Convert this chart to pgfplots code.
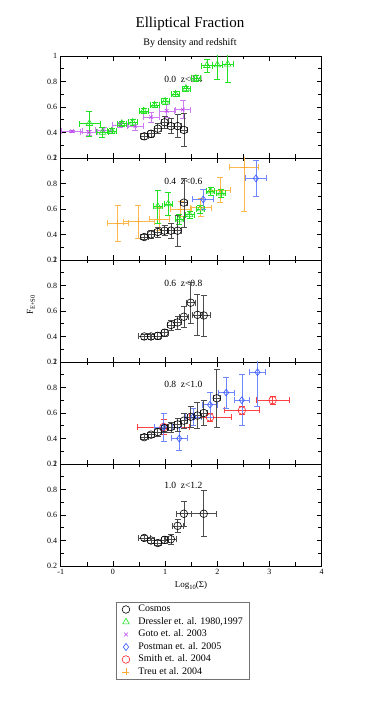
\documentclass[border=0pt]{standalone}
\usepackage{fontspec}
\setmainfont{Liberation Serif}
\usepackage{pgfplots}
\pgfplotsset{compat=1.18}
\definecolor{cgreen}{HTML}{22E022}
\definecolor{cviolet}{HTML}{BB44EE}
\definecolor{cblue}{HTML}{3355FF}
\definecolor{cred}{HTML}{FF2222}
\definecolor{corange}{HTML}{FFAA33}
\tikzset{lab/.style={anchor=west, inner sep=0pt, font=\fontsize{9.5}{9.5}\selectfont}}
\pgfplotsset{
  panel/.style={scale only axis, width=261pt, height=102pt, anchor=north west,
    xmin=-1, xmax=4, ymin=0.2, ymax=1,
    xtick={-1,0,1,2,3,4}, minor x tick num=1,
    ytick={0.2,0.4,0.6,0.8,1}, yticklabels={0.2,0.4,0.6,0.8,1}, minor y tick num=1,
    tick align=inside, major tick length=5pt, minor tick length=3.5pt,
    axis line style={line width=0.8pt}, every tick/.style={black, line width=0.6pt},
    ticklabel style={font=\fontsize{8}{8}\selectfont},
    xticklabels={}},
  eb/.style={error bars/x dir=both, error bars/x explicit, error bars/y dir=both, error bars/y explicit,
    error bars/error bar style={color=#1, line width=0.6pt},
    error bars/error mark options={rotate=90, color=#1, mark size=3pt, line width=0.6pt}},
  cosmos/.style={only marks, mark=o, mark size=3.8pt, mark options={black, line width=0.6pt}, eb=black!70},
  dress/.style={only marks, mark=triangle, mark size=3.8pt, mark options={cgreen, line width=0.6pt}, eb=cgreen},
  goto/.style={only marks, mark=x, mark size=2.5pt, mark options={cviolet, line width=0.6pt}, eb=cviolet!70},
  postman/.style={only marks, mark=diamond, mark size=3.4pt, mark options={cblue, line width=0.6pt}, eb=cblue!70},
  smith/.style={only marks, mark=o, mark size=3.8pt, mark options={cred, line width=0.6pt}, eb=cred!85},
  treu/.style={only marks, mark=+, mark size=3pt, mark options={corange, line width=0.6pt}, eb=corange!85},
}
\begin{document}
\begin{tikzpicture}
\useasboundingbox (0,0) rectangle (374pt,715pt);
\node[font=\fontsize{15}{15}\selectfont] at (190pt,691pt) {Elliptical Fraction};
\node[font=\fontsize{10}{10}\selectfont] at (190pt,672pt) {By density and redshift};
\node[rotate=90, font=\fontsize{9}{9}\selectfont] at (31pt,410pt) {F\raisebox{-0.5ex}{\fontsize{6.5}{6.5}\selectfont E+S0}};
\node[font=\fontsize{9}{9}\selectfont] at (191pt,130pt) {Log\raisebox{-0.5ex}{\fontsize{6.5}{6.5}\selectfont 10}(Σ)};

% Panel 1
\begin{axis}[panel, at={(60.7pt,659pt)}]
\node[lab] at (axis cs:0.98,0.82) {0.0\ \ z<0.4};
\addplot[goto] table[x=x,y=y,x error=ex,y error=ey] {
x y ex ey
-0.78 0.41 0.2 0.01
-0.46 0.40 0.17 0.02
-0.18 0.42 0.15 0.02
0.14 0.46 0.15 0.02
0.43 0.45 0.15 0.03
0.73 0.52 0.15 0.04
1.03 0.57 0.15 0.05
1.34 0.58 0.15 0.07
};
\addplot[dress] table[x=x,y=y,x error=ex,y error=ey] {
x y ex ey
-0.45 0.47 0.2 0.1
-0.20 0.40 0.12 0.04
-0.02 0.41 0.08 0.02
0.17 0.47 0.08 0.02
0.38 0.48 0.08 0.02
0.59 0.57 0.08 0.02
0.80 0.615 0.08 0.02
1.00 0.645 0.08 0.02
1.20 0.70 0.08 0.02
1.40 0.745 0.08 0.02
1.59 0.825 0.08 0.02
1.80 0.925 0.1 0.05
2.00 0.93 0.1 0.11
2.20 0.935 0.1 0.14
};
\addplot[cosmos] table[x=x,y=y,x error=ex,y error=ey] {
x y ex ey
0.60 0.37 0.08 0.02
0.73 0.39 0.07 0.03
0.86 0.43 0.07 0.04
0.99 0.48 0.07 0.05
1.11 0.45 0.07 0.06
1.24 0.45 0.07 0.09
1.36 0.42 0.07 0.13
};
\end{axis}

% Panel 2
\begin{axis}[panel, at={(60.7pt,557pt)}]
\node[lab] at (axis cs:0.98,0.82) {0.4\ \ z<0.6};
\addplot[treu] table[x=x,y=y,x error=ex,y error=ey] {
x y ex ey
0.09 0.49 0.2 0.14
0.49 0.50 0.3 0.13
0.89 0.52 0.2 0.09
1.30 0.60 0.2 0.06
1.68 0.61 0.2 0.07
2.05 0.75 0.2 0.10
2.51 0.93 0.28 0.35
};
\addplot[dress] table[x=x,y=y,x error=ex,y error=ey] {
x y ex ey
0.86 0.62 0.08 0.13
1.06 0.64 0.08 0.09
1.27 0.52 0.08 0.04
1.47 0.555 0.08 0.03
1.67 0.60 0.08 0.03
1.87 0.74 0.08 0.03
2.07 0.725 0.08 0.03
};
\addplot[postman] table[x=x,y=y,x error=ex,y error=ey] {
x y ex ey
1.73 0.675 0.2 0.08
2.74 0.84 0.2 0.14
};
\addplot[cosmos] table[x=x,y=y,x error=ex,y error=ey] {
x y ex ey
0.60 0.38 0.08 0.02
0.73 0.40 0.07 0.03
0.86 0.42 0.07 0.04
0.99 0.43 0.07 0.04
1.11 0.43 0.07 0.06
1.24 0.43 0.07 0.12
1.36 0.65 0.07 0.19
};
\end{axis}

% Panel 3
\begin{axis}[panel, at={(60.7pt,455pt)}]
\node[lab] at (axis cs:0.98,0.82) {0.6\ \ z<0.8};
\addplot[cosmos] table[x=x,y=y,x error=ex,y error=ey] {
x y ex ey
0.60 0.40 0.11 0.02
0.73 0.40 0.07 0.02
0.86 0.405 0.07 0.03
0.99 0.43 0.07 0.03
1.11 0.49 0.07 0.04
1.24 0.51 0.07 0.05
1.36 0.555 0.08 0.08
1.49 0.665 0.08 0.16
1.62 0.57 0.1 0.16
1.74 0.565 0.13 0.16
};
\end{axis}

% Panel 4
\begin{axis}[panel, at={(60.7pt,353pt)}]
\node[lab] at (axis cs:0.98,0.825) {0.8\ \ z<1.0};
\addplot[smith] table[x=x,y=y,x error=ex,y error=ey] {
x y ex ey
0.97 0.49 0.5 0.06
1.86 0.565 0.4 0.03
2.47 0.62 0.33 0.03
3.06 0.70 0.31 0.03
};
\addplot[postman] table[x=x,y=y,x error=ex,y error=ey] {
x y ex ey
0.97 0.49 0.17 0.11
1.27 0.40 0.15 0.09
1.54 0.57 0.15 0.07
1.86 0.665 0.14 0.1
2.17 0.76 0.15 0.12
2.47 0.70 0.15 0.2
2.77 0.92 0.15 0.27
};
\addplot[cosmos] table[x=x,y=y,x error=ex,y error=ey] {
x y ex ey
0.60 0.41 0.08 0.02
0.73 0.43 0.07 0.02
0.86 0.45 0.07 0.03
0.99 0.48 0.07 0.03
1.11 0.49 0.07 0.04
1.24 0.51 0.07 0.05
1.36 0.54 0.07 0.06
1.49 0.57 0.07 0.08
1.62 0.58 0.07 0.1
1.74 0.60 0.07 0.1
1.99 0.715 0.07 0.23
};
\end{axis}

% Panel 5
\begin{axis}[panel, at={(60.7pt,251pt)}, xticklabels={-1,0,1,2,3,4},
  legend style={at={(0.211,-0.353)}, anchor=north west, draw=black!55, line width=0.8pt,
    font=\fontsize{10}{10}\selectfont, inner xsep=6pt, inner ysep=1.5pt,
    nodes={inner sep=0.6pt, text height=7.5pt, text depth=2.5pt}, column sep=8pt, row sep=1.3pt},
  legend cell align=left]
\node[lab] at (axis cs:0.98,0.83) {1.0\ \ z<1.2};
\addplot[cosmos, forget plot] table[x=x,y=y,x error=ex,y error=ey] {
x y ex ey
0.60 0.42 0.11 0.02
0.73 0.40 0.07 0.02
0.86 0.38 0.07 0.02
0.99 0.405 0.07 0.03
1.11 0.41 0.1 0.04
1.24 0.515 0.1 0.05
1.36 0.61 0.15 0.1
1.74 0.61 0.24 0.18
};
\addlegendimage{only marks, mark=o, mark size=3.8pt, mark options={black, line width=0.6pt}}
\addlegendentry{Cosmos}
\addlegendimage{only marks, mark=triangle, mark size=3.8pt, mark options={cgreen, line width=0.6pt}}
\addlegendentry{Dressler et. al. 1980,1997}
\addlegendimage{only marks, mark=x, mark size=2.8pt, mark options={cviolet, line width=0.6pt}}
\addlegendentry{Goto et. al. 2003}
\addlegendimage{only marks, mark=diamond, mark size=3.6pt, mark options={cblue, line width=0.6pt}}
\addlegendentry{Postman et. al. 2005}
\addlegendimage{only marks, mark=o, mark size=3.8pt, mark options={cred, line width=0.6pt}}
\addlegendentry{Smith et. al. 2004}
\addlegendimage{only marks, mark=+, mark size=3.5pt, mark options={corange, line width=0.6pt}}
\addlegendentry{Treu et al. 2004}
\end{axis}
\end{tikzpicture}
\end{document}
